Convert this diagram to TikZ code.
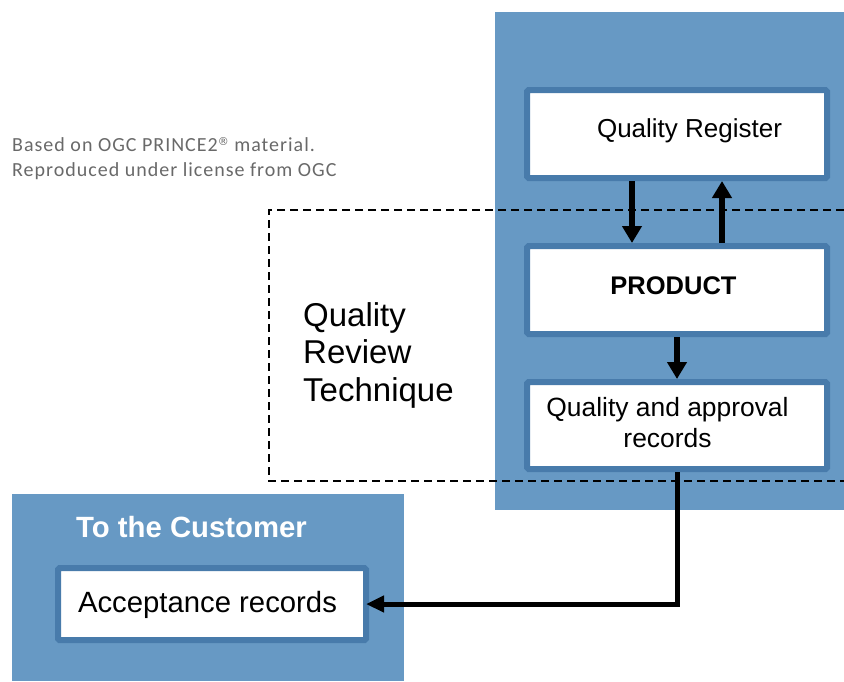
\documentclass[tikz,border=0pt]{standalone}
\usepackage{fontspec}
\setmainfont{Liberation Sans}
\newfontfamily\notefont[LetterSpace=5]{Carlito}
\newfontfamily\regfont{DejaVu Sans}
\usetikzlibrary{arrows.meta}
\definecolor{panelblue}{RGB}{103,153,196}
\definecolor{borderblue}{RGB}{72,123,171}
\definecolor{notegray}{RGB}{105,105,105}
\tikzset{
  panel/.style={fill=panelblue, draw=none},
  box/.style={draw=borderblue, fill=white, line width=6pt, rounded corners=1.5pt, inner sep=0pt},
  txt/.style={inner sep=0pt, font=\fontsize{26}{31}\selectfont},
  flow/.style={line width=5.5pt, -{Triangle[length=17pt,width=19pt]}},
  reviewline/.style={line width=1.8pt, dash pattern=on 8pt off 5pt}
}
\begin{document}
\begin{tikzpicture}[x=1pt,y=-1pt]
\useasboundingbox (0,0) rectangle (844,681);
% panels
\fill[panel] (495,12) rectangle (844,510);
\fill[panel] (12,494) rectangle (404,681);
% dashed review area
\draw[reviewline] (844,210) -- (269,210) -- (269,481) -- (844,481);
% boxes
\node[box, minimum width=300pt, minimum height=88pt] (qr) at (677,134) {};
\node[box, minimum width=300pt, minimum height=88pt] (prod) at (677,290) {};
\node[box, minimum width=300pt, minimum height=87pt] (qar) at (677,425.5) {};
\node[box, minimum width=308pt, minimum height=72pt] (acc) at (212,604) {};
% texts
\node[txt] (qrt) at (689.5,131) {Quality Register};
\node[txt, font=\fontsize{25.5}{30}\bfseries] (prodt) at (673.5,286) {PRODUCT};
\node[txt, align=center, font=\fontsize{26.4}{31}\selectfont] (qart) at (667.5,423) {Quality and approval\\records};
\node[txt, font=\fontsize{29.3}{34}\selectfont] (acct) at (207.5,604.5) {Acceptance records};
\node[txt, font=\fontsize{29.3}{34}\bfseries, text=white] (cust) at (191.5,527) {To the Customer};
\node[txt, anchor=west, align=left, font=\fontsize{33}{37.5}\selectfont] (review) at (303,355) {Quality\\Review\\Technique};
\node[txt, anchor=north west, align=left, text=notegray, font=\notefont\fontsize{20}{25}\selectfont] (note) at (12,137) {Based on OGC PRINCE2{\regfont\fontsize{11}{11}\selectfont\raisebox{6pt}{®}} material.\\Reproduced under license from OGC};
% arrows
\draw[flow] ([xshift=-45pt]qr.south) -- ([xshift=-45pt]prod.north);
\draw[flow] ([xshift=45pt]prod.north) -- ([xshift=45pt]qr.south);
\draw[flow] (prod.south) -- (qar.north);
\coordinate (corner) at (qar.south |- acc.east);
\draw[line width=5pt, -{Triangle[length=18pt,width=16pt]}] (qar.south) -- (corner) -- ([xshift=-3pt]acc.east);
\end{tikzpicture}
\end{document}
